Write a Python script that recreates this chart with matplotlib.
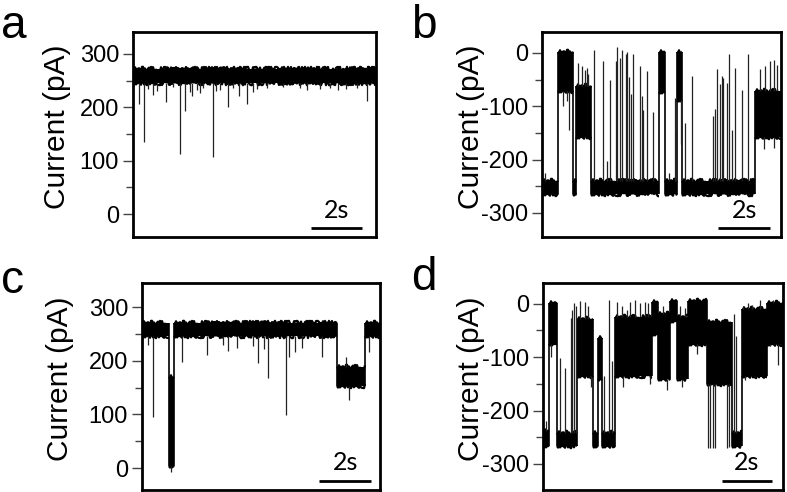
"""
Four single-channel current traces (panels a-d), redrawn as level segments
plus the brief excursions (spikes) read off the recording.
Saves out.png.
"""

import matplotlib
matplotlib.use("Agg")
import matplotlib.pyplot as plt
import matplotlib.transforms as mtransforms

plt.rcParams["font.family"] = ["Liberation Sans", "DejaVu Sans"]
plt.rcParams["axes.unicode_minus"] = False

FIG_W, FIG_H = 787, 492

# ---- panel a -------------------------------------------------------------
# segments: (t_start, t_end, low, high) of the noisy open/closed level, pA
A_SEGMENTS = [(0.0, 9.5, 245, 271)]
A_SPIKE_T = [0.25, 0.43, 0.60, 0.77, 0.93, 1.29, 1.58, 1.84, 2.03, 2.22, 2.29,
             2.49, 2.62, 2.75, 3.11, 3.24, 3.39, 3.70, 3.92, 4.15, 4.47, 4.70,
             4.83, 5.22, 5.87, 6.52, 6.79, 7.30, 7.70, 8.02, 8.34, 8.74, 9.13]
A_SPIKE_Y = [207, 135, 235, 223, 230, 210, 238, 112, 193, 228, 222,
             232, 227, 236, 106, 230, 233, 200, 236, 221, 207, 228,
             235, 237, 238, 236, 232, 235, 237, 232, 235, 236, 212]

# ---- panel b -------------------------------------------------------------
B_SEGMENTS = [(0.00, 0.63, -265, -240), (0.63, 1.21, -72, 2),
              (1.21, 1.30, -265, -240), (1.30, 1.90, -158, -62),
              (1.90, 4.53, -265, -240), (4.53, 4.77, -74, 2),
              (4.77, 5.24, -265, -240), (5.24, 5.43, -88, 2),
              (5.43, 8.26, -265, -240), (8.26, 9.26, -158, -72)]
B_SPIKE_T = [0.10, 0.80, 0.95, 1.06, 1.41, 1.54, 1.67, 1.73, 1.80,
             2.03, 2.35, 2.51, 2.64, 2.87, 2.92, 3.02, 3.09, 3.26, 3.31,
             3.39, 3.44, 3.51, 3.80, 3.86, 3.93, 4.08, 4.31, 4.92, 5.16,
             5.19, 5.38, 5.54, 5.83, 6.64, 6.71, 6.77, 6.90, 6.96, 7.03,
             7.16, 7.25, 7.35, 7.48, 7.74, 8.00, 8.45, 8.64, 8.84, 8.97,
             9.10, 8.60, 9.00]
B_SPIKE_Y = [-226, -100, -90, -144, -19, -25, -32, -28, -40,
             6, -16, -203, -50, -16, 10, -10, 5, -2, 1,
             -46, -78, -2, -25, -81, -107, -34, -110, -225, -85,
             -144, -170, -131, -44, -119, -106, -31, -59, -44, -47,
             -56, -3, -144, -28, -69, -3, -31, -25, -16, -14,
             -22, -181, -178]

# ---- panel c -------------------------------------------------------------
C_SEGMENTS = [(0.00, 1.04, 246, 271), (1.04, 1.25, 3, 169),
              (1.25, 7.55, 246, 271), (7.55, 8.62, 153, 188),
              (8.62, 9.20, 246, 271)]
C_SPIKE_T = [0.25, 0.44, 1.12, 1.53, 2.50, 3.12, 3.34, 3.69, 4.30, 4.50,
             4.72, 4.88, 5.57, 5.69, 5.91, 6.17, 6.95, 7.90, 8.00, 8.79]
C_SPIKE_Y = [229, 96, -8, 198, 211, 229, 218, 224, 228, 196,
             222, 167, 99, 207, 217, 223, 207, 207, 127, 217]

# ---- panel d -------------------------------------------------------------
D_SEGMENTS = [(0.00, 0.25, -267, -238), (0.25, 0.54, -76, 2),
              (0.54, 1.33, -267, -243), (1.33, 1.99, -136, -29),
              (1.99, 2.19, -267, -243), (2.19, 2.32, -141, -64),
              (2.32, 2.85, -267, -243), (2.85, 4.30, -136, -24),
              (4.30, 4.57, -56, 4), (4.57, 5.03, -141, -19),
              (5.03, 5.29, -33, 6), (5.29, 5.75, -141, -24),
              (5.75, 6.48, -76, 6), (6.48, 7.47, -151, -34),
              (7.47, 7.86, -267, -243), (7.86, 8.86, -136, -9),
              (8.86, 9.50, -76, 2)]
D_SPIKE_T = [0.10, 0.32, 0.67, 0.87, 1.09, 1.16, 1.24, 1.29, 1.46, 1.66,
             1.79, 1.90, 2.40, 2.60, 2.73, 2.92, 3.11, 3.18, 3.31, 3.44,
             3.64, 3.84, 4.04, 4.17, 4.23, 4.76, 4.90, 5.42, 5.49, 5.62,
             6.10, 6.52, 6.61, 6.72, 6.81, 7.27, 7.36, 7.55, 7.65, 7.93,
             8.00, 8.13, 8.26, 8.39, 8.59, 8.99, 9.12, 9.31]
D_SPIKE_Y = [-220, -100, -102, -121, -27, -11, 1, -5, 6, 4,
             -5, -155, -136, 7, -108, 4, -5, -155, -11, 3,
             7, 2, 4, 2, -150, -5, -161, -5, -155, -8,
             -95, -270, -270, -270, -270, -270, -268, -20, -60, -5,
             -143, 1, -3, -137, 7, -80, 8, -115]

PANELS = [
    # letter, segments, spike t, spike y, t_end, ylim, ticks, minor ticks
    ("a", A_SEGMENTS, A_SPIKE_T, A_SPIKE_Y, 9.5, (-43, 341),
     [0, 100, 200, 300], [50, 150, 250]),
    ("b", B_SEGMENTS, B_SPIKE_T, B_SPIKE_Y, 9.26, (-345, 39),
     [-300, -200, -100, 0], [-250, -150, -50]),
    ("c", C_SEGMENTS, C_SPIKE_T, C_SPIKE_Y, 9.2, (-41, 345),
     [0, 100, 200, 300], [50, 150, 250]),
    ("d", D_SEGMENTS, D_SPIKE_T, D_SPIKE_Y, 9.5, (-349, 39),
     [-300, -200, -100, 0], [-250, -150, -50]),
]

# axes boxes in pixels: left, top, right, bottom
BOXES = [(133, 32, 376, 237), (542, 32, 781, 237),
         (142, 283, 380, 490), (543, 283, 783, 490)]
LETTER_POS = [(1, 38), (411, 38), (1, 293), (411, 290)]
YLABEL_X = [57, 471, 60, 471]
SCALEBAR_T0 = [6.96, 6.83, 6.85, 7.07]


def band_at(segments, t):
    for t0, t1, lo, hi in segments:
        if t0 <= t <= t1:
            return lo, hi
    return segments[-1][2], segments[-1][3]


def draw_trace(ax, segments, spike_t, spike_y):
    for t0, t1, lo, hi in segments:
        # noisy level: solid band, its top/bottom edges drawn ragged
        ax.fill([t0, t1, t1, t0], [lo, lo, hi, hi], facecolor="black",
                edgecolor="none")
        for level in (lo, hi):
            edge, = ax.plot([t0, t1], [level, level], color="black", lw=1.6,
                            solid_capstyle="butt")
            edge.set_sketch_params(scale=2.2, length=0.9, randomness=3)
    # vertical jumps between consecutive levels
    for (a0, a1, alo, ahi), (b0, b1, blo, bhi) in zip(segments[:-1], segments[1:]):
        ax.vlines(a1, min(alo, blo), max(ahi, bhi), color="black", lw=1.2)
    for t, y in zip(spike_t, spike_y):
        lo, hi = band_at(segments, t)
        base = lo if y < lo else hi
        ax.vlines(t, base, y, color="#222222", lw=0.9)


fig = plt.figure(figsize=(FIG_W / 100, FIG_H / 100), dpi=100)

for i, (letter, segs, st, sy, t_end, ylim, ticks, minor) in enumerate(PANELS):
    l, t, r, b = BOXES[i]
    ax = fig.add_axes([l / FIG_W, 1 - b / FIG_H, (r - l) / FIG_W, (b - t) / FIG_H])
    draw_trace(ax, segs, st, sy)
    ax.set_xlim(0, t_end)
    ax.set_ylim(*ylim)
    ax.set_xticks([])
    ax.set_yticks(ticks)
    ax.set_yticks(minor, minor=True)
    ax.set_yticklabels([str(v) for v in ticks])
    ax.tick_params(axis="y", which="major", length=7, width=1, color="#444444",
                   labelsize=17, pad=3)
    ax.tick_params(axis="y", which="minor", length=5, width=1, color="#444444")
    for sp in ax.spines.values():
        sp.set_linewidth(2)

    # 2 s scale bar
    trans = mtransforms.blended_transform_factory(ax.transData, ax.transAxes)
    t0 = SCALEBAR_T0[i]
    ax.plot([t0, t0 + 2], [0.045, 0.045], color="black", lw=2,
            transform=trans, solid_capstyle="butt", clip_on=False)
    ax.text(t0 + 1, 0.075, "2s", transform=trans, ha="center", va="bottom",
            fontsize=18, family=["Lato", "DejaVu Sans"])

    fig.text(YLABEL_X[i] / FIG_W, 1 - ((t + b) / 2 - 8) / FIG_H, "Current (pA)",
             rotation=90, ha="center", va="center", fontsize=21.5)
    lx, ly = LETTER_POS[i]
    fig.text(lx / FIG_W, 1 - ly / FIG_H, letter, ha="left", va="baseline",
             fontsize=33)

fig.savefig("out.png", dpi=100)
